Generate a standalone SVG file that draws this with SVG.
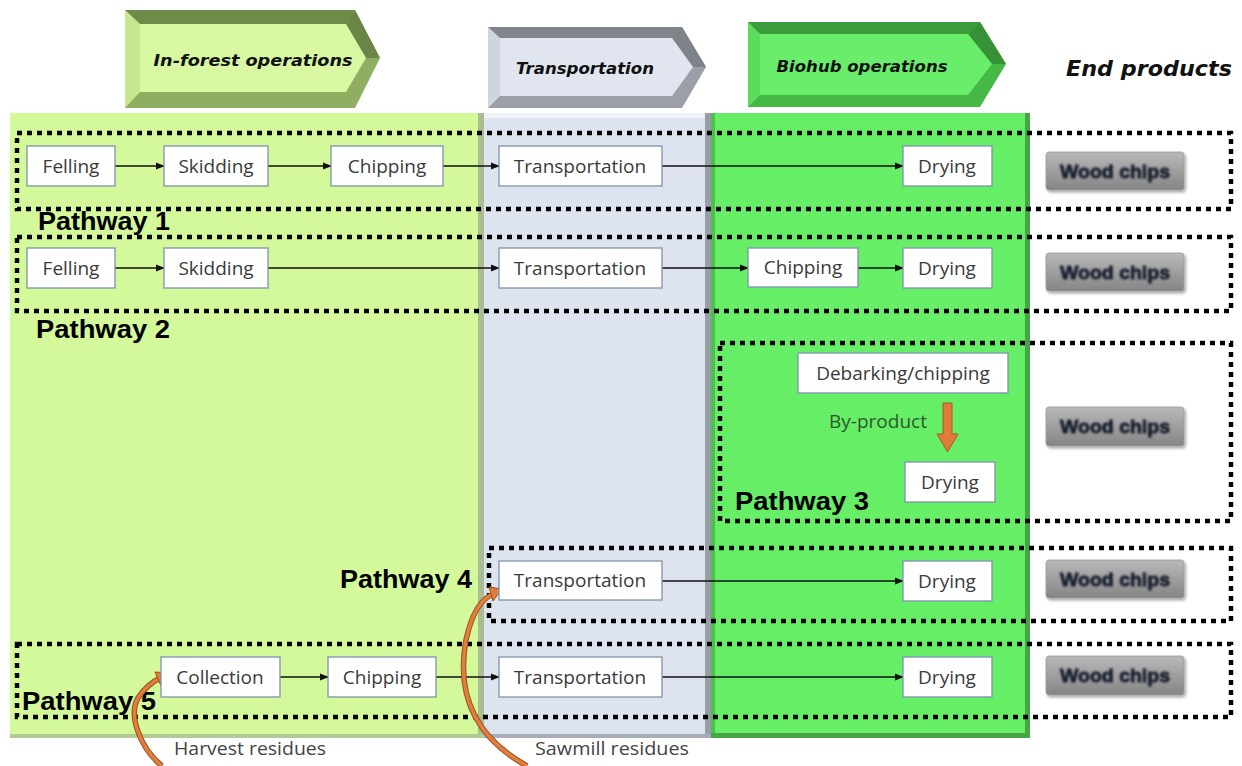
<svg xmlns="http://www.w3.org/2000/svg" width="1242" height="766" viewBox="0 0 1242 766">
<defs>
<style>
.node{fill:#fff;stroke:#7f93ad;stroke-width:1.3}
.lbl{font-family:"Open Sans","Noto Sans",sans-serif;font-size:19px;fill:#3a3a3a;text-anchor:middle}
.path{fill:none;stroke:#000;stroke-width:4.5;stroke-dasharray:5 5}
.pw{font-family:"Liberation Sans",Arial,sans-serif;font-weight:bold;font-size:25px;fill:#000}
.con{fill:none;stroke:#111;stroke-width:1.4;marker-end:url(#ah)}
.hdr{font-family:"DejaVu Sans","Liberation Sans",sans-serif;font-weight:bold;font-style:italic;fill:#111}
.chip{fill:url(#chipg);stroke:#9a9a9a;stroke-width:0.8}
.chipt{font-family:"Liberation Sans",Arial,sans-serif;font-weight:bold;font-size:19px;fill:#18202f;stroke:#18202f;stroke-width:0.8;text-anchor:middle}
.res{font-family:"Open Sans","Noto Sans",sans-serif;font-size:19px;fill:#444}
.curve-edge{fill:none;stroke:#9a5022;stroke-width:5.5}
.curve{fill:none;stroke:#e07e3c;stroke-width:3.5}
</style>
<marker id="ah" viewBox="0 0 10 10" refX="9" refY="5" markerWidth="9" markerHeight="9" markerUnits="userSpaceOnUse" orient="auto">
<path d="M0,1 L10,5 L0,9 z" fill="#111"/>
</marker>
<linearGradient id="chipg" x1="0" y1="0" x2="0" y2="1">
<stop offset="0" stop-color="#b9b9b9"/>
<stop offset="1" stop-color="#858585"/>
</linearGradient>
<filter id="soft" x="-10%" y="-30%" width="120%" height="160%">
<feGaussianBlur stdDeviation="0.8"/>
</filter>
<filter id="sh" x="-10%" y="-30%" width="130%" height="170%">
<feDropShadow dx="1.5" dy="2" stdDeviation="1.5" flood-color="#000" flood-opacity="0.35"/>
</filter>
</defs>

<rect width="1242" height="766" fill="#fff"/>

<!-- column panels -->
<g id="panels">
<rect x="10" y="113" width="474" height="625" fill="#d4f99b"/>
<rect x="478" y="113" width="6" height="625" fill="#aabd92"/>
<rect x="10" y="734" width="474" height="4" fill="#b2c895"/>
<rect x="484" y="113" width="227" height="625" fill="#dde4f0"/>
<rect x="484" y="113" width="227" height="5" fill="#eef1f7"/>
<rect x="705" y="113" width="6" height="625" fill="#989ea8"/>
<rect x="484" y="734" width="227" height="4" fill="#a7adb7"/>
<rect x="711" y="113" width="319" height="625" fill="#66ee66"/>
<rect x="711" y="113" width="4" height="625" fill="#4cbf4c"/>
<rect x="1025" y="113" width="5" height="625" fill="#44a644"/>
<rect x="711" y="733" width="319" height="5" fill="#44a644"/>
</g>

<!-- stage headers -->
<g id="hdr-forest">
<polygon points="125,10 355,10 380,58 355,108 125,108" fill="#8fae62"/>
<polygon points="125,10 355,10 346,24 140,24" fill="#6e8b48"/>
<polygon points="355,10 380,58 366,58 346,24" fill="#6a8646"/>
<polygon points="125,10 140,24 140,92 125,108" fill="#c6e690"/>
<polygon points="140,24 346,24 366,58 346,92 140,92" fill="#d8f8a2"/>
<text class="hdr" x="253" y="66" font-size="15.5" text-anchor="middle" textLength="199" lengthAdjust="spacingAndGlyphs">In-forest operations</text>
</g>
<g id="hdr-transport">
<polygon points="488,27 682,27 706,67 682,108 488,108" fill="#9a9fa8"/>
<polygon points="488,27 682,27 672,38 500,38" fill="#80848b"/>
<polygon points="682,27 706,67 693,67 672,38" fill="#7e8289"/>
<polygon points="488,27 500,38 500,96 488,108" fill="#cfd4de"/>
<polygon points="500,38 672,38 693,67 672,96 500,96" fill="#e0e5ef"/>
<text class="hdr" x="585" y="74" font-size="16.5" text-anchor="middle" textLength="138" lengthAdjust="spacingAndGlyphs">Transportation</text>
</g>
<g id="hdr-biohub">
<polygon points="748,22 980,22 1006,64 980,107 748,107" fill="#46b846"/>
<polygon points="748,22 980,22 968,34 760,34" fill="#3b9c3b"/>
<polygon points="980,22 1006,64 992,64 968,34" fill="#379237"/>
<polygon points="748,22 760,34 760,95 748,107" fill="#5cdc5c"/>
<polygon points="760,34 968,34 992,64 968,95 760,95" fill="#6aed6a"/>
<text class="hdr" x="862" y="72" font-size="15.5" text-anchor="middle" textLength="171" lengthAdjust="spacingAndGlyphs">Biohub operations</text>
</g>
<g id="hdr-end">
<text class="hdr" x="1149" y="76" font-size="22" text-anchor="middle" textLength="166" lengthAdjust="spacingAndGlyphs">End products</text>
</g>

<!-- pathway frames -->
<g id="pathways">
<rect class="path" x="17" y="133" width="1214" height="76"/>
<rect class="path" x="17" y="237" width="1214" height="74"/>
<rect class="path" x="720" y="343" width="511" height="178"/>
<rect class="path" x="489" y="548" width="742" height="73"/>
<rect class="path" x="17" y="644" width="1214" height="73"/>
<text class="pw" x="38" y="230" textLength="132" lengthAdjust="spacingAndGlyphs">Pathway 1</text>
<text class="pw" x="36" y="338" textLength="134" lengthAdjust="spacingAndGlyphs">Pathway 2</text>
<text class="pw" x="735" y="510" textLength="134" lengthAdjust="spacingAndGlyphs">Pathway 3</text>
<text class="pw" x="340" y="588" textLength="132" lengthAdjust="spacingAndGlyphs">Pathway 4</text>
<text class="pw" x="22" y="710" textLength="134" lengthAdjust="spacingAndGlyphs">Pathway 5</text>
</g>

<!-- connectors -->
<g id="connectors">
<line class="con" x1="115" y1="166" x2="164" y2="166"/>
<line class="con" x1="268" y1="166" x2="331" y2="166"/>
<line class="con" x1="443" y1="166" x2="499" y2="166"/>
<line class="con" x1="662" y1="166" x2="903" y2="166"/>
<line class="con" x1="115" y1="268" x2="164" y2="268"/>
<line class="con" x1="268" y1="268" x2="499" y2="268"/>
<line class="con" x1="662" y1="268" x2="748" y2="268"/>
<line class="con" x1="858" y1="268" x2="903" y2="268"/>
<line class="con" x1="662" y1="581" x2="903" y2="581"/>
<line class="con" x1="280" y1="677" x2="328" y2="677"/>
<line class="con" x1="436" y1="677" x2="499" y2="677"/>
<line class="con" x1="662" y1="677" x2="903" y2="677"/>
<!-- by-product block arrow -->
<polygon points="943,403 952,403 952,434 958,434 947.5,452 937,434 943,434" fill="#e07b38" stroke="#a85a25" stroke-width="1"/>
<!-- residue inflow arrows -->
<path class="curve-edge" d="M162,766 C140,748 128,715 138,698 C145,687 152,682 160,678"/>
<path class="curve" d="M162,766 C140,748 128,715 138,698 C145,687 152,682 160,678"/>
<polygon points="168,673 155,672 161,686" fill="#e07e3c" stroke="#9a5022" stroke-width="1"/>
<path class="curve-edge" d="M527,766 C480,740 455,700 466,640 C472,612 482,598 494,594"/>
<path class="curve" d="M527,766 C480,740 455,700 466,640 C472,612 482,598 494,594"/>
<polygon points="502,589 489,587 493,601" fill="#e07e3c" stroke="#9a5022" stroke-width="1"/>
</g>

<!-- pathway 1 -->
<g id="p1-felling"><rect class="node" x="27" y="146" width="88" height="40"/><text class="lbl" x="71" y="173">Felling</text></g>
<g id="p1-skidding"><rect class="node" x="164" y="146" width="104" height="40"/><text class="lbl" x="216" y="173">Skidding</text></g>
<g id="p1-chipping"><rect class="node" x="331" y="146" width="112" height="40"/><text class="lbl" x="387" y="173">Chipping</text></g>
<g id="p1-transport"><rect class="node" x="499" y="146" width="163" height="40"/><text class="lbl" x="580" y="173">Transportation</text></g>
<g id="p1-drying"><rect class="node" x="903" y="146" width="89" height="40"/><text class="lbl" x="947" y="173">Drying</text></g>

<!-- pathway 2 -->
<g id="p2-felling"><rect class="node" x="27" y="248" width="88" height="40"/><text class="lbl" x="71" y="275">Felling</text></g>
<g id="p2-skidding"><rect class="node" x="164" y="248" width="104" height="40"/><text class="lbl" x="216" y="275">Skidding</text></g>
<g id="p2-transport"><rect class="node" x="499" y="248" width="163" height="40"/><text class="lbl" x="580" y="275">Transportation</text></g>
<g id="p2-chipping"><rect class="node" x="748" y="248" width="110" height="39"/><text class="lbl" x="803" y="274">Chipping</text></g>
<g id="p2-drying"><rect class="node" x="903" y="248" width="89" height="40"/><text class="lbl" x="947" y="275">Drying</text></g>

<!-- pathway 3 -->
<g id="p3-debarking"><rect class="node" x="798" y="353" width="210" height="40"/><text class="lbl" x="903" y="380">Debarking/chipping</text></g>
<g id="p3-byproduct"><text class="lbl" x="878" y="428" style="fill:#2d582d">By-product</text></g>
<g id="p3-drying"><rect class="node" x="905" y="462" width="90" height="40"/><text class="lbl" x="950" y="489">Drying</text></g>

<!-- pathway 4 -->
<g id="p4-transport"><rect class="node" x="499" y="561" width="163" height="39"/><text class="lbl" x="580" y="587">Transportation</text></g>
<g id="p4-drying"><rect class="node" x="903" y="561" width="89" height="40"/><text class="lbl" x="947" y="588">Drying</text></g>

<!-- pathway 5 -->
<g id="p5-collection"><rect class="node" x="161" y="657" width="119" height="40"/><text class="lbl" x="220" y="684">Collection</text></g>
<g id="p5-chipping"><rect class="node" x="328" y="657" width="108" height="40"/><text class="lbl" x="382" y="684">Chipping</text></g>
<g id="p5-transport"><rect class="node" x="499" y="657" width="163" height="40"/><text class="lbl" x="580" y="684">Transportation</text></g>
<g id="p5-drying"><rect class="node" x="903" y="657" width="89" height="40"/><text class="lbl" x="947" y="684">Drying</text></g>

<!-- residue sources -->
<g id="harvest-residues"><text class="res" x="174" y="755" textLength="152" lengthAdjust="spacingAndGlyphs">Harvest residues</text></g>
<g id="sawmill-residues"><text class="res" x="535" y="755" textLength="154" lengthAdjust="spacingAndGlyphs">Sawmill residues</text></g>

<!-- end products -->
<g id="wc1"><rect class="chip" x="1046" y="152" width="138" height="38" rx="3" filter="url(#sh)"/><text class="chipt" x="1115" y="178" textLength="110" lengthAdjust="spacingAndGlyphs" filter="url(#soft)">Wood chips</text></g>
<g id="wc2"><rect class="chip" x="1046" y="253" width="138" height="38" rx="3" filter="url(#sh)"/><text class="chipt" x="1115" y="279" textLength="110" lengthAdjust="spacingAndGlyphs" filter="url(#soft)">Wood chips</text></g>
<g id="wc3"><rect class="chip" x="1046" y="407" width="138" height="39" rx="3" filter="url(#sh)"/><text class="chipt" x="1115" y="433" textLength="110" lengthAdjust="spacingAndGlyphs" filter="url(#soft)">Wood chips</text></g>
<g id="wc4"><rect class="chip" x="1046" y="560" width="138" height="38" rx="3" filter="url(#sh)"/><text class="chipt" x="1115" y="586" textLength="110" lengthAdjust="spacingAndGlyphs" filter="url(#soft)">Wood chips</text></g>
<g id="wc5"><rect class="chip" x="1046" y="656" width="138" height="39" rx="3" filter="url(#sh)"/><text class="chipt" x="1115" y="682" textLength="110" lengthAdjust="spacingAndGlyphs" filter="url(#soft)">Wood chips</text></g>
</svg>
